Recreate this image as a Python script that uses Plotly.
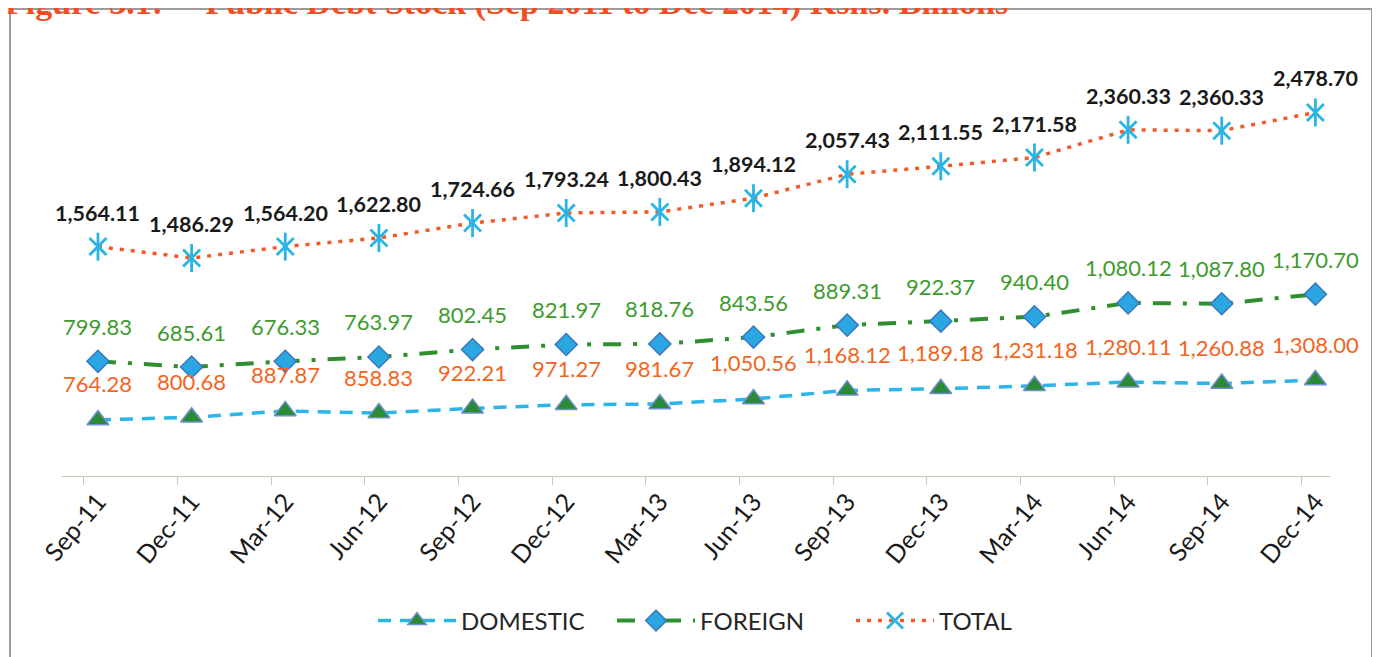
import numpy as np
import plotly.graph_objects as go

categories = ["Sep-11", "Dec-11", "Mar-12", "Jun-12", "Sep-12", "Dec-12", "Mar-13",
              "Jun-13", "Sep-13", "Dec-13", "Mar-14", "Jun-14", "Sep-14", "Dec-14"]
domestic = [764.28, 800.68, 887.87, 858.83, 922.21, 971.27, 981.67,
            1050.56, 1168.12, 1189.18, 1231.18, 1280.11, 1260.88, 1308.00]
foreign = [799.83, 685.61, 676.33, 763.97, 802.45, 821.97, 818.76,
           843.56, 889.31, 922.37, 940.40, 1080.12, 1087.80, 1170.70]
total = [1564.11, 1486.29, 1564.20, 1622.80, 1724.66, 1793.24, 1800.43,
         1894.12, 2057.43, 2111.55, 2171.58, 2360.33, 2360.33, 2478.70]

# Excel "stacked line" chart: each series is plotted on top of the previous ones
x_idx = np.arange(len(categories))
dom_arr = np.array(domestic)
stack_dom = dom_arr
stack_for = dom_arr + np.array(foreign)
stack_tot = stack_for + np.array(total)

FONT = "Lato"
W, H = 1380, 657
OFF = 8  # page body margin
ML, MR, MT, MB = 62 - OFF, 58, 36 - OFF, 181 + OFF
PW, PH = W - ML - MR, H - MT - MB


def px_to_paper_x(px):
    # px given in screen (viewport) pixels
    return (px - OFF - ML) / PW


def px_to_paper_y(py):
    return (H - MB - (py - OFF)) / PH


fig = go.Figure()

fig.add_trace(go.Scatter(
    x=x_idx, y=stack_dom, name="DOMESTIC", mode="lines+markers",
    line=dict(color="#2cb5e8", width=3.5, dash="13px,9px"),
    marker=dict(symbol="triangle-up", size=19, color="#2a8a35",
                line=dict(color="#6f8fd0", width=1.5)),
))
fig.add_trace(go.Scatter(
    x=x_idx, y=stack_for, name="FOREIGN", mode="lines+markers",
    line=dict(color="#2f8f2f", width=4, dash="18px,12px,4px,12px"),
    marker=dict(symbol="diamond", size=17, color="#2aa6e0",
                line=dict(color="#3a78c0", width=1.5)),
))
fig.add_trace(go.Scatter(
    x=x_idx, y=stack_tot, name="TOTAL", mode="lines+markers",
    line=dict(color="#f05a28", width=3.5, dash="4px,7px"),
    marker=dict(symbol="x-thin-open", size=17, color="#2ab4e6",
                line=dict(color="#2ab4e6", width=2.8)),
))
fig.add_trace(go.Scatter(
    x=x_idx, y=stack_tot, mode="markers", showlegend=False, hoverinfo="skip",
    marker=dict(symbol="line-ns-open", size=20, color="#2ab4e6",
                line=dict(color="#2ab4e6", width=2.8)),
))

annotations = []
for i, c in enumerate(categories):
    annotations.append(dict(x=x_idx[i], y=stack_dom[i], text=f"{domestic[i]:,.2f}", showarrow=False,
                            yshift=36, font=dict(family=FONT, size=22, color="#f26522")))
    annotations.append(dict(x=x_idx[i], y=stack_for[i], text=f"{foreign[i]:,.2f}", showarrow=False,
                            yshift=35, font=dict(family=FONT, size=22, color="#3d9b2e")))
    annotations.append(dict(x=x_idx[i], y=stack_tot[i], text=f"<b>{total[i]:,.2f}</b>", showarrow=False,
                            yshift=34, font=dict(family=FONT, size=21.5, color="#1a1a1a")))

annotations.append(dict(
    xref="paper", yref="paper", x=px_to_paper_x(3), y=px_to_paper_y(24),
    xanchor="left", yanchor="bottom", showarrow=False,
    text="<b>Figure 3.1:\u00a0\u00a0\u00a0\u00a0\u00a0Public Debt Stock (Sep 2011 to Dec 2014) Kshs. Billions</b>",
    font=dict(family="Liberation Serif", size=34, color="#f04e23"),
))

fig.add_shape(type="rect", xref="paper", yref="paper",
              x0=px_to_paper_x(10), x1=px_to_paper_x(1372),
              y0=px_to_paper_y(690), y1=px_to_paper_y(9),
              line=dict(color="#9c9c9c", width=2), fillcolor="rgba(0,0,0,0)", layer="below")

fig.update_layout(
    width=W, height=H,
    margin=dict(l=ML, r=MR, t=MT, b=MB),
    paper_bgcolor="white", plot_bgcolor="white",
    annotations=annotations,
    showlegend=True,
    legend=dict(orientation="h", x=px_to_paper_x(373), xanchor="left",
                y=px_to_paper_y(621), yanchor="middle",
                font=dict(family=FONT, size=24, color="#262626"),
                itemwidth=78, entrywidth=146, entrywidthmode="pixels",
                bgcolor="rgba(0,0,0,0)"),
    xaxis=dict(range=[-0.384, 13.156], showline=True,
               linecolor="#c8c8b4", linewidth=1, ticks="", ticklen=0,
               tickvals=x_idx, ticktext=categories,
               tickangle=-50, showgrid=False, zeroline=False,
               tickfont=dict(family=FONT, size=25, color="#1a1a1a"),
               minor=dict(tickvals=list(x_idx - 0.15), ticks="outside", ticklen=8,
                          tickcolor="#c8c8b4", tickwidth=1, showgrid=False)),
    yaxis=dict(range=[0, 6000], visible=False, showgrid=False, zeroline=False),
)

fig.write_html("out.html")
